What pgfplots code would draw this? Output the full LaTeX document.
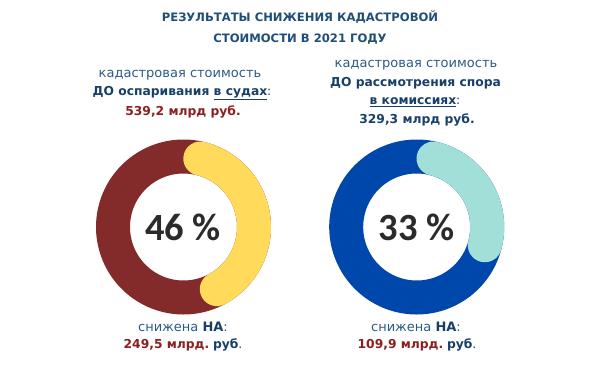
\documentclass[border=0pt]{standalone}
\usepackage{pgfplots}
\usepackage{pgfplotstable}
\pgfplotsset{compat=1.18}
\usepackage{fontspec}
\setmainfont{DejaVu Sans}
\newfontfamily\numfont{Carlito}
\definecolor{titleblue}{HTML}{1F4E79}
\definecolor{textblue}{HTML}{2C5A86}
\definecolor{navy}{HTML}{183F68}
\definecolor{redtext}{HTML}{8B1E1E}
\definecolor{ringred}{HTML}{832A2B}
\definecolor{ringyellow}{HTML}{FFDA5B}
\definecolor{ringblue}{HTML}{0047AB}
\definecolor{ringteal}{HTML}{A2DFD9}
\definecolor{numgray}{HTML}{2B2B2B}

% share = reduction in percent; total and reduced in bn rub
\pgfplotstableread{
label share total reduced cx cy
sud   46    539.2 249.5   183.5 227
kom   33    329.3 109.9   416.7 227
}\donutdata

\pgfplotstablegetelem{0}{share}\of\donutdata \let\shareA\pgfplotsretval
\pgfplotstablegetelem{1}{share}\of\donutdata \let\shareB\pgfplotsretval
\pgfmathsetmacro{\capdeg}{13.8}
\pgfmathsetmacro{\endA}{3.6*\shareA-\capdeg}
\pgfmathsetmacro{\endB}{3.6*\shareB-\capdeg}

\newcommand\fn{\fontsize{12.3}{14}\selectfont}
\newcommand\fr{\fontsize{13}{14}\selectfont}

\begin{document}
\begin{tikzpicture}
\path[use as bounding box] (0,0) rectangle (600pt,365pt);
\begin{axis}[
  at={(0,0)}, anchor=south west,
  width=600pt, height=365pt, scale only axis,
  xmin=0, xmax=600, ymin=0, ymax=365, y dir=reverse,
  hide axis, clip=false,
]
% left donut: base ring and reduction arc
\addplot[ringred, line width=34pt, domain=0:370, samples=200] ({183.5+70.5*sin(x)},{227-70.5*cos(x)});
\addplot[ringyellow, line width=34pt, line cap=round, domain=\capdeg:\endA, samples=100] ({183.5+70.5*sin(x)},{227-70.5*cos(x)});
% right donut
\addplot[ringblue, line width=34pt, domain=0:370, samples=200] ({416.7+70.5*sin(x)},{227-70.5*cos(x)});
\addplot[ringteal, line width=34pt, line cap=round, domain=\capdeg:\endB, samples=100] ({416.7+70.5*sin(x)},{227-70.5*cos(x)});

% title
\node[font=\fontsize{11.6}{14}\selectfont\bfseries, text=titleblue] at (axis cs:300,17) {РЕЗУЛЬТАТЫ СНИЖЕНИЯ КАДАСТРОВОЙ};
\node[font=\fontsize{11.6}{14}\selectfont\bfseries, text=titleblue] at (axis cs:300,39) {СТОИМОСТИ В 2021 ГОДУ};

% left texts
\node[font=\fr, text=textblue] at (axis cs:180,75) {кадастровая стоимость};
\node[font=\fn\bfseries, text=navy] at (axis cs:182,93) {ДО оспаривания \underline{в судах}\textmd{:}};
\node[font=\fn\bfseries, text=redtext] at (axis cs:183,112) {539,2 млрд руб.};

% right texts
\node[font=\fr, text=textblue] at (axis cs:416,65) {кадастровая стоимость};
\node[font=\fn\bfseries, text=navy] at (axis cs:415.5,83) {ДО рассмотрения спора};
\node[font=\fn\bfseries, text=navy] at (axis cs:415,102) {\underline{в комиссиях}\textmd{:}};
\node[font=\fn\bfseries, text=navy] at (axis cs:417,120) {329,3 млрд руб.};

% center numbers
\node[font=\numfont\fontsize{38.5}{44}\selectfont\bfseries, text=numgray] at (axis cs:183,227) {46 \%};
\node[font=\numfont\fontsize{38.5}{44}\selectfont\bfseries, text=numgray] at (axis cs:416.5,227) {33 \%};

% bottom texts
\node[font=\fr, text=textblue] at (axis cs:183,327) {снижена \textbf{\color{navy}НА}:};
\node[font=\fn\bfseries, text=redtext] at (axis cs:183,345) {249,5 млрд.\hspace{0.3em}{\color{navy}руб}\textmd{\color{navy}.}};
\node[font=\fr, text=textblue] at (axis cs:416,327) {снижена \textbf{\color{navy}НА}:};
\node[font=\fn\bfseries, text=redtext] at (axis cs:417,345) {109,9 млрд.\hspace{0.3em}{\color{navy}руб}\textmd{\color{navy}.}};
\end{axis}
\end{tikzpicture}
\end{document}
